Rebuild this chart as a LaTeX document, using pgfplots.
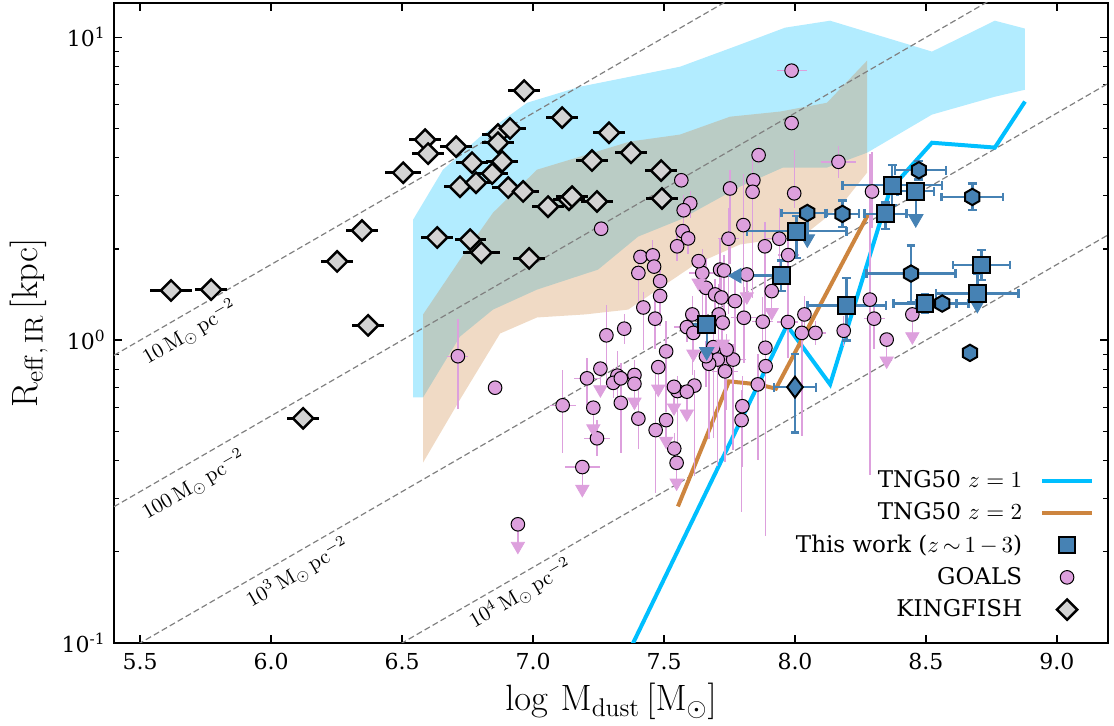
\RequirePackage{fix-cm}
\documentclass[border=0pt]{standalone}
\usepackage[no-math]{fontspec}
\setmainfont{DejaVu Serif}
\usepackage{pgfplots}
\usepackage{pgfplotstable}
\pgfplotsset{compat=1.18}

\definecolor{tngone}{RGB}{0,191,255}
\definecolor{tngtwo}{RGB}{205,133,63}
\definecolor{steel}{RGB}{70,130,180}
\definecolor{goals}{RGB}{221,160,221}
\definecolor{kfish}{RGB}{211,211,211}
\definecolor{guide}{RGB}{128,128,128}

% filled hexagon with a pointed top
\pgfdeclareplotmark{hexagon*}{%
  \pgfpathmoveto{\pgfqpoint{0pt}{\pgfplotmarksize}}%
  \pgfpathlineto{\pgfqpoint{-0.866\pgfplotmarksize}{0.5\pgfplotmarksize}}%
  \pgfpathlineto{\pgfqpoint{-0.866\pgfplotmarksize}{-0.5\pgfplotmarksize}}%
  \pgfpathlineto{\pgfqpoint{0pt}{-\pgfplotmarksize}}%
  \pgfpathlineto{\pgfqpoint{0.866\pgfplotmarksize}{-0.5\pgfplotmarksize}}%
  \pgfpathlineto{\pgfqpoint{0.866\pgfplotmarksize}{0.5\pgfplotmarksize}}%
  \pgfpathclose
  \pgfusepathqfillstroke}

\pgfplotsset{
  lgline/.style={legend image code/.code={\draw[##1] (0pt,0pt) -- (25pt,0pt);}},
  lgmark/.style={legend image code/.code={\draw[mark repeat=2,mark phase=2,##1] plot coordinates {(0pt,0pt)(12.5pt,0pt)(25pt,0pt)};}},
}
\newcommand\lgs{\rule[-2.8pt]{0pt}{11.3pt}}

% all radii are log10(R_eff / kpc), masses log10(M_dust / Msun)
\pgfplotstableread{
x y ex
5.618 0.164 0.08
5.771 0.167 0.06
6.252 0.260 0.06
6.347 0.362 0.06
6.370 0.049 0.06
6.122 -0.258 0.06
6.504 0.553 0.07
6.588 0.662 0.06
6.599 0.616 0.06
6.706 0.639 0.06
6.721 0.507 0.06
6.767 0.586 0.06
6.782 0.520 0.06
6.760 0.332 0.06
6.634 0.339 0.06
6.802 0.289 0.07
6.844 0.550 0.06
6.866 0.679 0.06
6.866 0.652 0.06
6.882 0.590 0.06
6.905 0.504 0.06
6.912 0.699 0.06
6.962 0.491 0.06
6.966 0.824 0.06
6.985 0.270 0.06
7.057 0.441 0.06
7.111 0.735 0.06
7.137 0.464 0.06
7.149 0.474 0.06
7.225 0.593 0.06
7.244 0.458 0.06
7.290 0.685 0.06
7.374 0.619 0.06
7.489 0.560 0.06
7.492 0.468 0.06
}\kingfish

\pgfplotstableread{
x y ex eyp eym
7.987 0.890 0.057 0 0
7.987 0.717 0 0 0
7.861 0.611 0 0.03 0.03
8.166 0.589 0.067 0.053 0.053
7.566 0.528 0 0 0
7.752 0.501 0 0.06 0.25
7.841 0.528 0 0 0
7.838 0.490 0 0.12 0.35
7.997 0.485 0 0.144 0.05
8.294 0.491 0 0.13 0.12
7.600 0.452 0 0.04 0.05
7.575 0.429 0 0.05 0.05
7.260 0.368 0 0 0
7.571 0.360 0 0 0
7.592 0.336 0 0.04 0.05
7.550 0.310 0 0.05 0.05
7.746 0.335 0.04 0.1 0.25
7.803 0.380 0 0.17 0.3
7.885 0.310 0 0.08 0.25
7.940 0.335 0.05 0.1 0.15
7.974 0.281 0.04 0.1 0.2
7.410 0.275 0 0 0
7.457 0.280 0 0.05 0.05
7.462 0.243 0 0 0
7.402 0.222 0 0.05 0.1
7.485 0.195 0 0.05 0.05
7.485 0.146 0 0.1 0.1
7.421 0.108 0 0.05 0.14
7.466 0.071 0 0.08 0.1
7.280 0.016 0 0.1 0.15
7.348 0.038 0 0.05 0.05
7.508 -0.037 0 0.1 0.2
7.322 -0.117 0 0.08 0.1
7.387 -0.115 0 0.05 0.05
7.206 -0.126 0.05 0.066 0.1
7.646 0.222 0.05 0.08 0.15
7.714 0.233 0 0.1 0.1
7.729 0.230 0 0.05 0.2
7.660 0.173 0 0.1 0.15
7.695 0.151 0 0.05 0.1
7.719 0.141 0.05 0.08 0.2
7.608 0.085 0 0.06 0.2
7.587 0.043 0.05 0.05 0.05
7.709 0.085 0 0.1 0.2
7.688 -0.023 0 0.1 0.3
7.705 -0.064 0 0.05 0.35
7.672 -0.078 0 0.05 0.25
7.733 -0.103 0.05 0.05 0.3
7.771 0.129 0 0.1 0.2
7.805 0.074 0.05 0.1 0.15
7.877 0.061 0.04 0.08 0.1
7.973 0.060 0.04 0.1 0.12
8.036 0.085 0 0.06 0.06
8.026 0.024 0 0.05 0.34
8.078 0.024 0.04 0.04 0.04
8.186 0.031 0 0.05 0.05
8.286 0.134 0 0.48 0.58
8.302 0.071 0.04 0.05 0.1
7.887 -0.025 0 0.41 0.2
7.888 -0.086 0 0.1 0.56
7.764 -0.064 0.05 0.05 0.3
7.739 -0.031 0 0.05 0.2
7.306 -0.141 0 0.05 0.05
7.335 -0.126 0 0.05 0.05
7.335 -0.207 0 0.1 0.165
7.402 -0.259 0 0.1 0.1
7.468 -0.297 0 0.2 0.207
7.244 -0.324 0.05 0.06 0.06
7.551 -0.168 0 0.05 0.25
7.616 -0.150 0 0.05 0.3
7.539 -0.358 0 0.05 0.05
7.858 -0.146 0 0.1 0.25
7.799 -0.218 0 0.1 0.2
7.796 -0.264 0 0.1 0.305
6.713 -0.053 0.04 0.124 0.173
6.855 -0.157 0 0 0
7.113 -0.215 0.05 0.115 0.157
7.660 -0.053 0 0.05 0.1
}\goalsdet

% upper limits: arrow length em
\pgfplotstableread{
x y ex em
7.632 0.261 0 0.072
7.478 -0.089 0 0.072
7.257 -0.094 0 0.069
7.612 0.024 0 0.069
7.724 0.058 0 0.070
7.816 0.217 0 0.073
7.911 0.162 0 0.070
7.387 -0.144 0 0.060
7.230 -0.223 0 0.069
7.508 -0.264 0 0.069
7.188 -0.419 0.067 0.073
7.538 -0.154 0 0.069
7.587 -0.170 0 0.073
7.548 -0.405 0 0.066
6.942 -0.608 0 0.072
8.350 0.002 0 0.070
8.448 0.085 0 0.073
}\goalsul

\pgfplotstableread{
x y
7.632 0.189
7.478 -0.161
7.257 -0.163
7.612 -0.045
7.724 -0.012
7.816 0.144
7.911 0.092
7.387 -0.204
7.230 -0.292
7.508 -0.333
7.188 -0.492
7.538 -0.223
7.587 -0.243
7.548 -0.471
6.942 -0.680
8.350 -0.068
8.448 0.012
}\goalstips

\pgfplotstableread{
x y exm exp eym eyp
8.371 0.512 0.19 0.19 0.066 0.066
8.461 0.492 0.07 0.07 0 0
8.346 0.417 0.08 0.08 0.05 0.038
8.006 0.360 0.19 0.19 0.089 0.05
7.947 0.213 0 0 0.05 0.05
8.197 0.114 0.15 0.15 0.115 0.091
8.496 0.121 0.12 0.12 0.03 0.03
8.696 0.154 0.157 0.157 0 0.066
8.712 0.248 0.108 0.108 0.05 0.05
7.663 0.052 0.06 0.06 0 0
}\worksq

\pgfplotstableread{
x y exm exp eym eyp
8.473 0.561 0.092 0.103 0.03 0.03
8.047 0.420 0.098 0.074 0 0
8.181 0.417 0.064 0.064 0.044 0.044
8.677 0.473 0.117 0.117 0.044 0.044
8.443 0.220 0.17 0.17 0.093 0.093
8.562 0.121 0.1 0.1 0 0
8.668 -0.042 0 0 0 0
}\workhex

\pgfplotstableread{
x y exm exp eym eyp
8.000 -0.155 0.08 0.08 0.15 0.11
}\workdia

\begin{document}
\begin{tikzpicture}
\begin{axis}[
  scale only axis, width=497pt, height=320pt,
  xmin=5.4, xmax=9.195, ymin=-1, ymax=1.1135,
  axis line style={line width=0.8pt, black},
  tick align=inside, tick pos=both,
  major tick length=4pt, minor tick length=2.4pt,
  tick style={line width=0.8pt, black},
  minor tick style={line width=0.6pt},
  xtick={5.5,6.0,6.5,7.0,7.5,8.0,8.5,9.0},
  minor xtick={},
  ytick={-1,0,1},
  yticklabels={10\textsuperscript{-1},10\textsuperscript{0},10\textsuperscript{1}},
  minor ytick={-0.699,-0.523,-0.398,-0.301,-0.222,-0.155,-0.097,-0.046,0.301,0.477,0.602,0.699,0.778,0.845,0.903,0.954},
  ticklabel style={font=\fontsize{11}{13}\selectfont},
  xticklabel style={inner sep=0pt, yshift=-5pt, /pgf/number format/fixed, /pgf/number format/fixed zerofill, /pgf/number format/precision=1, /pgf/number format/assume math mode=true},
  yticklabel style={inner sep=0pt, xshift=-4pt},
  xlabel={$\log\,\mathrm{M_{dust}}\,[\mathrm{M_{\odot}}]$},
  ylabel={$\mathrm{R_{eff,\,IR}}\,[\mathrm{kpc}]$},
  xlabel style={font=\fontsize{18.3}{21}\selectfont, at={(axis description cs:0.5,-0.0625)}, anchor=north, inner sep=0pt},
  ylabel style={font=\fontsize{18.3}{21}\selectfont, at={(axis description cs:-0.0664,0.5)}, anchor=south, inner sep=0pt},
  legend style={at={(rel axis cs:0.986,0.2692)}, anchor=north east, draw=none, fill=none, inner sep=0pt, outer sep=0pt, row sep=6pt, column sep=9pt, nodes={inner sep=0pt}, font=\fontsize{11.5}{13}\selectfont},
  legend cell align=right,
  legend plot pos=right,
]

% TNG50 percentile bands
\addplot[forget plot, draw=none, fill=tngone, fill opacity=0.3] coordinates {
(6.542,0.398) (6.656,0.563) (6.798,0.672) (6.977,0.784) (7.179,0.837) (7.561,0.903)
(7.790,0.976) (7.962,1.032) (8.134,1.055) (8.523,0.953) (8.763,1.055) (8.878,1.029)
(8.878,0.827) (8.763,0.804) (8.523,0.745) (8.275,0.619) (8.122,0.570) (7.954,0.570)
(7.790,0.507) (7.561,0.398) (7.401,0.342) (7.248,0.233) (7.015,0.167) (6.847,0.101)
(6.721,0.012) (6.580,-0.189) (6.542,-0.189)} -- cycle;
\addplot[forget plot, draw=none, fill=tngtwo, fill opacity=0.3] coordinates {
(6.580,0.085) (6.721,0.266) (6.847,0.421) (7.015,0.563) (7.179,0.606) (7.370,0.656)
(7.561,0.679) (7.752,0.738) (7.943,0.755) (8.122,0.784) (8.275,0.923)
(8.275,0.553) (8.172,0.441) (8.046,0.355) (7.916,0.332) (7.790,0.316) (7.618,0.250)
(7.363,0.101) (7.198,0.085) (7.015,0.075) (6.874,0.022) (6.721,-0.196) (6.580,-0.404)} -- cycle;

% constant dust surface density
\addplot[forget plot, guide, line width=0.6pt, dash pattern=on 3pt off 1.6pt] coordinates {(5.4,-0.05) (9.2,1.85)};
\addplot[forget plot, guide, line width=0.6pt, dash pattern=on 3pt off 1.6pt] coordinates {(5.4,-0.55) (9.2,1.35)};
\addplot[forget plot, guide, line width=0.6pt, dash pattern=on 3pt off 1.6pt] coordinates {(5.4,-1.05) (9.2,0.85)};
\addplot[forget plot, guide, line width=0.6pt, dash pattern=on 3pt off 1.6pt] coordinates {(5.4,-1.55) (9.2,0.35)};
\node[rotate=30.04, inner sep=0pt, font=\fontsize{10.5}{12}\selectfont] at (axis cs:5.691,0.025) {$10\,\mathrm{M_{\odot}\,pc^{-2}}$};
\node[rotate=30.04, inner sep=0pt, font=\fontsize{10.5}{12}\selectfont] at (axis cs:5.706,-0.480) {$100\,\mathrm{M_{\odot}\,pc^{-2}}$};
\node[rotate=30.04, inner sep=0pt, font=\fontsize{10.5}{12}\selectfont] at (axis cs:6.103,-0.770) {$10^{3}\,\mathrm{M_{\odot}\,pc^{-2}}$};
\node[rotate=30.04, inner sep=0pt, font=\fontsize{10.5}{12}\selectfont] at (axis cs:6.954,-0.839) {$10^{4}\,\mathrm{M_{\odot}\,pc^{-2}}$};

% TNG50 medians
\addplot[forget plot, tngone, line width=2pt] coordinates {
(7.350,-1.057) (7.382,-1.0) (7.969,0.049) (8.134,-0.146) (8.363,0.497) (8.523,0.652) (8.763,0.636) (8.878,0.788)};
\addplot[forget plot, tngtwo, line width=2pt] coordinates {
(7.553,-0.549) (7.748,-0.136) (7.859,-0.146) (7.927,-0.160) (8.279,0.415)};

% KINGFISH
\addplot[forget plot, only marks, mark=square*, mark size=3.6pt,
  mark options={rotate=45, fill=kfish, draw=black, line width=1.2pt},
  error bars/.cd, x dir=both, x explicit, error mark=none,
  error bar style={black, line width=1.5pt}]
  table[x=x, y=y, x error=ex] {\kingfish};

% GOALS
\addplot[forget plot, only marks, mark=*, mark size=3.4pt,
  mark options={fill=goals, draw=black, line width=0.5pt},
  error bars/.cd, x dir=both, x explicit, y dir=both, y explicit, error mark=none,
  error bar style={goals, line width=0.7pt}]
  table[x=x, y=y, x error=ex, y error plus=eyp, y error minus=eym] {\goalsdet};
\addplot[forget plot, only marks, mark=*, mark size=3.4pt,
  mark options={fill=goals, draw=black, line width=0.5pt},
  error bars/.cd, x dir=both, x explicit, y dir=minus, y explicit, error mark=none,
  error bar style={goals, line width=0.7pt}]
  table[x=x, y=y, x error=ex, y error minus=em] {\goalsul};
\addplot[forget plot, only marks, mark=triangle*, mark size=3.8pt,
  mark options={rotate=180, fill=goals, draw=goals}]
  table[x=x, y=y] {\goalstips};

% this work: limits
\addplot[forget plot, only marks, mark=none,
  error bars/.cd, y dir=minus, y explicit, error mark=none,
  error bar style={steel, line width=1.2pt}]
  coordinates {(8.461,0.492) -= (0,0.091) (7.663,0.052) -= (0,0.090) (8.047,0.420) -= (0,0.086) (8.696,0.154) -= (0,0.036)};
\addplot[forget plot, only marks, mark=triangle*, mark size=4.2pt,
  mark options={rotate=180, fill=steel, draw=steel}]
  coordinates {(8.461,0.401) (7.663,-0.038) (8.047,0.334) (8.696,0.118)};
\addplot[forget plot, only marks, mark=none,
  error bars/.cd, x dir=minus, x explicit, error mark=none,
  error bar style={steel, line width=1.2pt}]
  coordinates {(7.947,0.213) -= (0.169,0)};
\addplot[forget plot, only marks, mark=triangle*, mark size=4.2pt,
  mark options={rotate=90, fill=steel, draw=steel}]
  coordinates {(7.778,0.213)};

% this work: measurements
\addplot[forget plot, only marks, mark=hexagon*, mark size=4.1pt,
  mark options={fill=steel, draw=black, line width=1pt},
  error bars/.cd, x dir=both, x explicit, y dir=both, y explicit,
  error bar style={steel, line width=1.2pt},
  error mark options={rotate=90, steel, mark size=2.2pt, line width=1.2pt}]
  table[x=x, y=y, x error plus=exp, x error minus=exm, y error plus=eyp, y error minus=eym] {\workhex};
\addplot[forget plot, only marks, mark=diamond*, mark size=5.2pt,
  mark options={fill=steel, draw=black, line width=1pt},
  error bars/.cd, x dir=both, x explicit, y dir=both, y explicit,
  error bar style={steel, line width=1.2pt},
  error mark options={rotate=90, steel, mark size=2.2pt, line width=1.2pt}]
  table[x=x, y=y, x error plus=exp, x error minus=exm, y error plus=eyp, y error minus=eym] {\workdia};
\addplot[forget plot, only marks, mark=square*, mark size=4.2pt,
  mark options={fill=steel, draw=black, line width=1pt},
  error bars/.cd, x dir=both, x explicit, y dir=both, y explicit,
  error bar style={steel, line width=1.2pt},
  error mark options={rotate=90, steel, mark size=2.2pt, line width=1.2pt}]
  table[x=x, y=y, x error plus=exp, x error minus=exm, y error plus=eyp, y error minus=eym] {\worksq};

% legend
\addlegendimage{tngone, line width=2pt, lgline}
\addlegendentry{\lgs TNG50 $z=1$}
\addlegendimage{tngtwo, line width=2pt, lgline}
\addlegendentry{\lgs TNG50 $z=2$}
\addlegendimage{only marks, mark=square*, mark size=4.2pt, mark options={fill=steel, draw=black, line width=1pt}, lgmark}
\addlegendentry{\lgs This work ($z\,{\sim}\,1\,{-}\,3$)}
\addlegendimage{only marks, mark=*, mark size=3.4pt, mark options={fill=goals, draw=black, line width=0.5pt}, lgmark}
\addlegendentry{\lgs GOALS}
\addlegendimage{only marks, mark=square*, mark size=3.6pt, mark options={rotate=45, fill=kfish, draw=black, line width=1.2pt}, lgmark}
\addlegendentry{\lgs KINGFISH}
\end{axis}
\pgfresetboundingbox
\path[use as bounding box] ([shift={(-57pt,-41.5pt)}]current axis.south west) rectangle ([shift={(3pt,1.5pt)}]current axis.north east);
\end{tikzpicture}
\end{document}
